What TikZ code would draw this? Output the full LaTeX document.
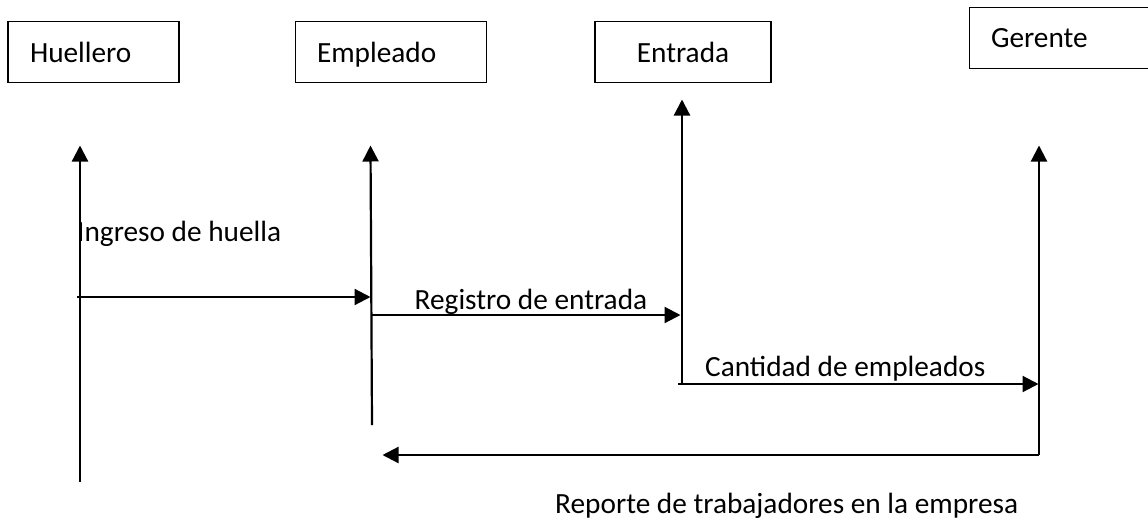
\documentclass[tikz,border=0pt]{standalone}
\usepackage{fontspec}
\setmainfont{Carlito}
\usetikzlibrary{arrows.meta}
\tikzset{
  box/.style={draw=black,line width=1.8pt,fill=white,rectangle,minimum height=61pt,inner ysep=0pt,align=left,text height=20pt,text depth=0pt},
  msg/.style={line width=2.2pt,draw=black,-{Triangle[length=16pt,width=16pt]},shorten >=-0.5pt},
  lbl/.style={inner sep=0pt,anchor=base west}
}
\begin{document}
\begin{tikzpicture}[x=1pt,y=-1pt,every node/.style={font=\fontsize{29.3}{33}\selectfont}]
\useasboundingbox (0,0) rectangle (1148,523);
% boxes
\node[box,minimum width=169pt,text width=127pt,inner xsep=22pt] (huellero) at (93.5,52) {Huellero};
\node[box,minimum width=190pt,text width=148pt,inner xsep=21.5pt] (empleado) at (391,52) {Empleado};
\node[box,minimum width=176pt,text width=136pt,inner xsep=20pt,align=center] (entrada) at (683,52) {Entrada};
\node[box,minimum width=200pt,text width=158pt,inner xsep=21.5pt,text depth=2pt] (gerente) at (1070,38) {Gerente};
% free ends of the lines
\coordinate (h0) at (80,482);   \coordinate (h1) at (80,146);
\coordinate (e0) at (372,425);  \coordinate (e1) at (370.5,146);
\coordinate (n0) at (682,384);  \coordinate (n1) at (682,100);
\coordinate (g0) at (1039,455); \coordinate (g1) at (1039,146);
\coordinate (r1) at (383,455);
\coordinate (a0) at (77,297);   \coordinate (a1) at (370,297);
\coordinate (b0) at (372,315);  \coordinate (b1) at (680,315);
\coordinate (c0) at (678,384);  \coordinate (c1) at (1038,384);
% lifelines
\draw[msg] (h0) -- (h1);
\draw[msg] (e0) -- (e1);
\draw[msg] (n0) -- (n1);
\draw[msg] (g0) -- (g1);
% messages
\draw[msg] (a0) -- (a1);
\draw[msg] (b0) -- (b1);
\draw[msg] (c0) -- (c1);
\draw[msg] (g0) -- (r1);
% labels
\node[lbl] (t1) at (77,241) {Ingreso de huella};
\node[lbl] (t2) at (414.5,309) {Registro de entrada};
\node[lbl] (t3) at (705,376) {Cantidad de empleados};
\node[lbl] (t4) at (555,513) {Reporte de trabajadores en la empresa};
\end{tikzpicture}
\end{document}
